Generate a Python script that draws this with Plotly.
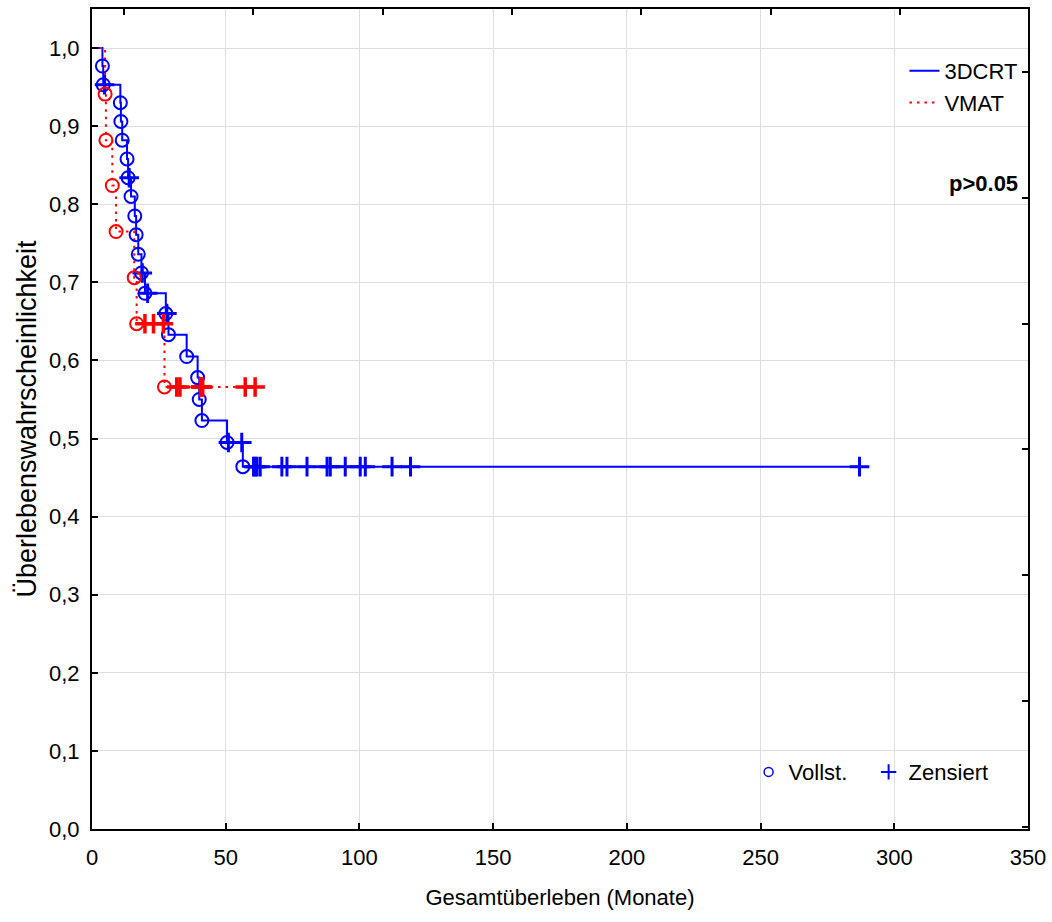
import plotly.graph_objects as go

# ---------------- data ----------------
# 3DCRT group
crt_event_t = [3.9, 4.2, 10.6, 10.8, 11.3, 13.1, 13.5, 14.6, 16.0, 16.5, 17.3, 18.5,
               19.8, 27.6, 28.6, 35.4, 39.5, 40.1, 41.1, 50.5, 56.4]
crt_event_s = [0.977, 0.953, 0.930, 0.906, 0.882, 0.858, 0.834, 0.810, 0.785, 0.761,
               0.736, 0.712, 0.686, 0.660, 0.633, 0.605, 0.578, 0.550, 0.523, 0.495, 0.464]
crt_cens_t = [4.7, 13.9, 18.8, 20.8, 28.0, 51.0, 56.0, 60.4, 61.0, 61.7, 62.9, 71.0,
              72.9, 80.4, 87.9, 89.1, 94.7, 100.3, 102.2, 112.2, 119.1, 287.0]
crt_cens_s = [0.953, 0.834, 0.712, 0.686, 0.660, 0.495, 0.495, 0.464, 0.464, 0.464,
              0.464, 0.464, 0.464, 0.464, 0.464, 0.464, 0.464, 0.464, 0.464, 0.464,
              0.464, 0.464]

# VMAT group
vmat_event_t = [4.9, 5.2, 7.6, 9.0, 15.8, 16.7, 27.1]
vmat_event_s = [0.941, 0.882, 0.824, 0.765, 0.706, 0.647, 0.566]
vmat_cens_t = [19.8, 23.0, 26.7, 31.7, 32.9, 40.6, 41.0, 41.4, 57.3, 61.0]
vmat_cens_s = [0.647, 0.647, 0.647, 0.566, 0.566, 0.566, 0.566, 0.566, 0.566, 0.566]

x_ticks = [0, 50, 100, 150, 200, 250, 300, 350]
y_ticks = [0.0, 0.1, 0.2, 0.3, 0.4, 0.5, 0.6, 0.7, 0.8, 0.9, 1.0]

BLUE = "#0000ff"
RED = "#ff0000"
FONT = "Arial, Liberation Sans, sans-serif"

fig = go.Figure()

# step lines
fig.add_trace(go.Scatter(
    x=[0] + crt_event_t + [crt_cens_t[-1]],
    y=[1.0] + crt_event_s + [crt_event_s[-1]],
    mode="lines", line=dict(color=BLUE, width=2, shape="hv"),
    name="3DCRT", legend="legend"))
fig.add_trace(go.Scatter(
    x=[0] + vmat_event_t + [vmat_cens_t[-1]],
    y=[1.0] + vmat_event_s + [vmat_event_s[-1]],
    mode="lines", line=dict(color=RED, width=2, shape="hv", dash="2.5px,5px"),
    name="VMAT", legend="legend"))

# markers
fig.add_trace(go.Scatter(x=crt_event_t, y=crt_event_s, mode="markers",
                         marker=dict(symbol="circle-open", size=13, color=BLUE,
                                     line=dict(width=2, color=BLUE)),
                         showlegend=False))
fig.add_trace(go.Scatter(x=crt_cens_t, y=crt_cens_s, mode="markers",
                         marker=dict(symbol="cross-thin-open", size=14, color=BLUE,
                                     line=dict(width=3, color=BLUE)),
                         showlegend=False))
fig.add_trace(go.Scatter(x=vmat_event_t, y=vmat_event_s, mode="markers",
                         marker=dict(symbol="circle-open", size=13, color=RED,
                                     line=dict(width=2, color=RED)),
                         showlegend=False))
fig.add_trace(go.Scatter(x=vmat_cens_t, y=vmat_cens_s, mode="markers",
                         marker=dict(symbol="cross-thin-open", size=14, color=RED,
                                     line=dict(width=3.5, color=RED)),
                         showlegend=False))

# marker legend entries (bottom right)
fig.add_trace(go.Scatter(x=[None], y=[None], mode="markers", name="Vollst.",
                         marker=dict(symbol="circle-open", size=9, color=BLUE,
                                     line=dict(width=1.5, color=BLUE)),
                         legend="legend2"))
fig.add_trace(go.Scatter(x=[None], y=[None], mode="markers", name="Zensiert",
                         marker=dict(symbol="cross-thin-open", size=11, color=BLUE,
                                     line=dict(width=2, color=BLUE)),
                         legend="legend2"))

# dummy trace to carry the secondary (top/right) tick axes
fig.add_trace(go.Scatter(x=[None], y=[None], xaxis="x2", yaxis="y2",
                         showlegend=False, hoverinfo="skip"))

fig.update_layout(
    width=1052, height=922,
    margin=dict(l=92, r=24, t=9, b=93),
    paper_bgcolor="white", plot_bgcolor="white",
    separators=",.",
    font=dict(family=FONT, size=22, color="black"),
    xaxis=dict(range=[0, 350], tickvals=x_ticks, ticks="inside", ticklen=6,
               tickwidth=1.5, tickcolor="black",
               showline=True, linecolor="black", linewidth=2, mirror=True,
               showgrid=True, gridcolor="#dedede", gridwidth=1, zeroline=False,
               ticklabelstandoff=8, automargin=False,
               title=dict(text="Gesamtüberleben (Monate)", standoff=20,
                          font=dict(size=22))),
    yaxis=dict(range=[0, 1.05], tickvals=y_ticks, tickformat=".1f",
               ticks="inside", ticklen=6, tickwidth=1.5, tickcolor="black",
               showline=True, linecolor="black", linewidth=2, mirror=True,
               showgrid=True, gridcolor="#dedede", gridwidth=1, zeroline=False,
               ticklabelstandoff=6, automargin=False,
               title=dict(text="Überlebenswahrscheinlichkeit", standoff=5,
                          font=dict(size=27))),
    xaxis2=dict(overlaying="x", side="top", range=[0, 1], tickmode="linear",
                tick0=0.0342, dtick=0.1382, ticks="inside", ticklen=6,
                tickwidth=1.5, tickcolor="black", showticklabels=False,
                showgrid=False, zeroline=False, showline=False),
    yaxis2=dict(overlaying="y", side="right", range=[0, 1], tickmode="linear",
                tick0=0.0024, dtick=0.1535, ticks="inside", ticklen=6,
                tickwidth=1.5, tickcolor="black", showticklabels=False,
                showgrid=False, zeroline=False, showline=False),
    legend=dict(x=0.868, y=0.950, xanchor="left", yanchor="top",
                bgcolor="rgba(0,0,0,0)", font=dict(size=22), tracegroupgap=0),
    legend2=dict(x=0.7015, y=0.0694, xanchor="left", yanchor="middle",
                 orientation="h", entrywidth=75, entrywidthmode="pixels",
                 bgcolor="rgba(0,0,0,0)", font=dict(size=22)),
    annotations=[dict(text="<b>p>0.05</b>", xref="paper", yref="paper",
                      x=0.991, y=0.787, xanchor="right", yanchor="middle",
                      showarrow=False, font=dict(size=22, color="black"))],
)

# remove the default page margin so the 1052x922 figure fills the window exactly
fig.write_html("out.html",
               config={"displayModeBar": False},
               post_script="document.body.style.margin='0';"
                           "document.body.style.overflow='hidden';")
